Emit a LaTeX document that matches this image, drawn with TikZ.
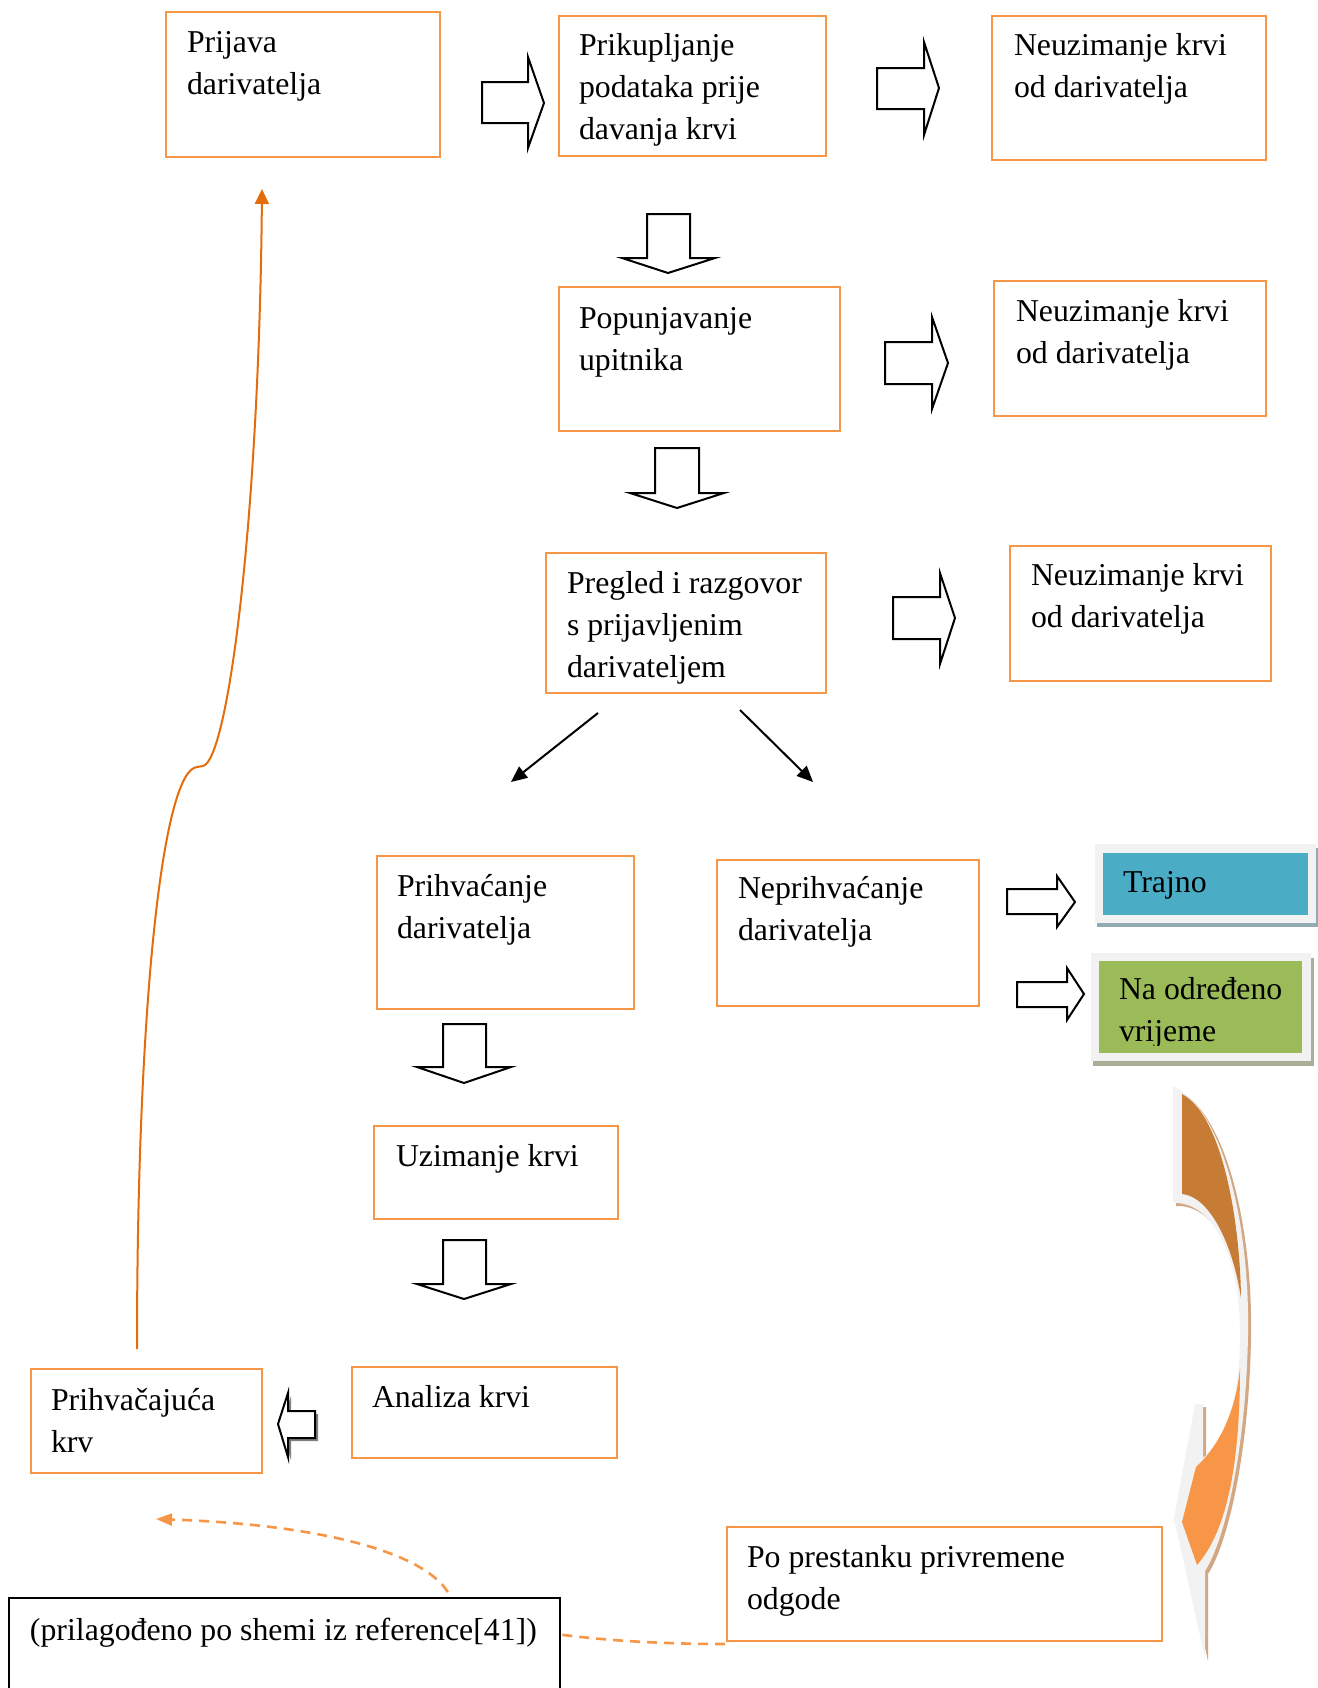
\documentclass[tikz,border=0pt]{standalone}
\usepackage{fontspec}
\setmainfont{Liberation Serif}
\usetikzlibrary{arrows.meta}
\definecolor{boxor}{HTML}{F79646}
\definecolor{curveor}{HTML}{E46C0A}
\definecolor{trblue}{HTML}{4BACC6}
\definecolor{nagreen}{HTML}{9BBB59}
\definecolor{framegray}{HTML}{F2F2F2}
\definecolor{blueshadow}{HTML}{93AAB5}
\definecolor{greenshadow}{HTML}{A9AF97}
\definecolor{darkor}{HTML}{C77C35}
\definecolor{tanshadow}{HTML}{D2A782}
\definecolor{arrshadow}{HTML}{808080}
\newcommand\obx[5]{\node[obox, minimum width={(#4-#2)*0.5pt}, minimum height={(#5-#3)*0.5pt}] (#1) at (#2,#3) {};}
\newcommand\tx[4]{\node[txt] (#1) at (#2,#3) {\begin{tabular}[t]{@{}l@{}}#4\end{tabular}};}
\begin{document}
\begin{tikzpicture}[x=0.5pt,y=-0.5pt,
  obox/.style={draw=boxor, line width=1.1pt, inner sep=0pt, outer sep=0pt, anchor=north west, fill=white},
  txt/.style={anchor=base west, inner sep=0pt, outer sep=0pt, font=\fontsize{15.9}{21}\selectfont},
  blockarrow/.style={draw=black, line width=1pt, fill=white, line join=miter},
  diagarrow/.style={draw=black, line width=1pt, -{Triangle[length=8pt,width=7pt]}},
  loopcurve/.style={draw=curveor, line width=1pt, -{Triangle[length=7.5pt,width=7pt]}},
  dashcurve/.style={draw=boxor, line width=1.3pt, dash pattern=on 5pt off 3.5pt, -{Triangle[length=8pt,width=6pt]}}]
\useasboundingbox (0,0) rectangle (1318,1688);

% ---------- boxes ----------
\obx{prijava}{166}{12}{440}{157}
\obx{prikup}{559}{16}{826}{156}
\obx{neuz1}{992}{16}{1266}{160}
\obx{popun}{559}{287}{840}{431}
\obx{neuz2}{994}{281}{1266}{416}
\obx{pregled}{546}{553}{826}{693}
\obx{neuz3}{1010}{546}{1271}{681}
\obx{prihv}{377}{856}{634}{1009}
\obx{neprihv}{717}{860}{979}{1006}
\obx{uzim}{374}{1126}{618}{1219}
\obx{analiza}{352}{1367}{617}{1458}
\obx{prihvkrv}{31}{1369}{262}{1473}
\obx{poprest}{727}{1527}{1162}{1641}

% ---------- coloured boxes ----------
\fill[blueshadow] (1097,848) rectangle (1318,927);
\fill[framegray] (1095,844) rectangle (1316,923);
\node[fill=trblue, inner sep=0pt, outer sep=0pt, anchor=north west, minimum width={205*0.5pt}, minimum height={62*0.5pt}] (trajno) at (1103,853) {};
\fill[greenshadow] (1093,958) rectangle (1314,1066);
\fill[framegray] (1091,953) rectangle (1311,1061);
\node[fill=nagreen, inner sep=0pt, outer sep=0pt, anchor=north west, minimum width={203*0.5pt}, minimum height={92*0.5pt}] (naodr) at (1099,961) {};

% ---------- hollow block arrows ----------
\draw[blockarrow] (482,82) -- (528,82) -- (528,57) -- (544,103) -- (528,148) -- (528,123) -- (482,123) -- cycle;
\draw[blockarrow] (877,68) -- (924,68) -- (924,42) -- (939,88) -- (924,135) -- (924,109) -- (877,109) -- cycle;
\draw[blockarrow] (885,342) -- (932,342) -- (932,317) -- (948,363) -- (932,409) -- (932,384) -- (885,384) -- cycle;
\draw[blockarrow] (893,597) -- (940,597) -- (940,573) -- (955,618) -- (940,664) -- (940,639) -- (893,639) -- cycle;
\draw[blockarrow] (1007,889) -- (1057,889) -- (1057,876) -- (1075,902) -- (1057,927) -- (1057,914) -- (1007,914) -- cycle;
\draw[blockarrow] (1017,982) -- (1067,982) -- (1067,968) -- (1084,994) -- (1067,1020) -- (1067,1007) -- (1017,1007) -- cycle;
\draw[blockarrow] (647,214) -- (690,214) -- (690,258) -- (715,258) -- (668,273) -- (622,258) -- (647,258) -- cycle;
\draw[blockarrow] (655,448) -- (699,448) -- (699,493) -- (724,493) -- (677,508) -- (630,493) -- (655,493) -- cycle;
\draw[blockarrow] (443,1024) -- (486,1024) -- (486,1067) -- (511,1067) -- (464,1083) -- (417,1067) -- (443,1067) -- cycle;
\draw[blockarrow] (443,1240) -- (486,1240) -- (486,1284) -- (511,1284) -- (464,1299) -- (417,1284) -- (443,1284) -- cycle;
% left arrow with shadow
\fill[arrshadow, shift={(3,3)}] (278,1424) -- (288,1393) -- (288,1411) -- (315,1411) -- (315,1438) -- (288,1438) -- (288,1457) -- cycle;
\draw[blockarrow] (278,1424) -- (288,1393) -- (288,1411) -- (315,1411) -- (315,1438) -- (288,1438) -- (288,1457) -- cycle;

% ---------- diagonal arrows ----------
\coordinate (dl1) at (598,713);
\coordinate (dl2) at (511,782);
\coordinate (dr1) at (740,710);
\coordinate (dr2) at (813,782);
\draw[diagarrow] (dl1) -- (dl2);
\draw[diagarrow] (dr1) -- (dr2);

% ---------- loop back curve ----------
\coordinate (cstart) at (137,1349);
\coordinate (cend) at (262,189);
\draw[loopcurve] (cstart) .. controls (137,1000) and (163,770) .. (197,767) -- (203,766) .. controls (228,760) and (259,520) .. (cend);

% ---------- big curved arrow ----------
\fill[tanshadow, shift={(3,3)}] (1173,1086) .. controls (1225,1110) and (1250,1230) .. (1248,1335)
  .. controls (1246,1450) and (1225,1540) .. (1205,1571) -- (1205,1658) -- (1174,1518) -- (1195,1404) -- (1203,1404) -- (1203,1458)
  .. controls (1225,1440) and (1240,1400) .. (1240,1335) .. controls (1240,1260) and (1215,1205) .. (1177,1203) -- (1173,1203) -- cycle;
\fill[framegray] (1173,1086) .. controls (1225,1110) and (1250,1230) .. (1248,1335)
  .. controls (1246,1450) and (1225,1540) .. (1205,1571) -- (1205,1658) -- (1174,1518) -- (1195,1404) -- (1203,1404) -- (1203,1458)
  .. controls (1225,1440) and (1240,1400) .. (1240,1335) .. controls (1240,1260) and (1215,1205) .. (1177,1203) -- (1173,1203) -- cycle;
\fill[darkor] (1182,1094) .. controls (1222,1115) and (1240,1220) .. (1241,1298) .. controls (1232,1240) and (1208,1196) .. (1182,1194) -- cycle;
\fill[boxor] (1240,1368) .. controls (1240,1460) and (1228,1530) .. (1197,1565) -- (1182,1522) -- (1196,1467) .. controls (1220,1445) and (1236,1410) .. (1240,1368) -- cycle;

% ---------- dashed curve and reference box ----------
\coordinate (dstart) at (725,1644);
\coordinate (dend) at (156,1519);
\draw[dashcurve] (dstart) .. controls (600,1644) and (470,1630) .. (450,1596) .. controls (430,1555) and (330,1525) .. (dend);
\node[draw=black, line width=0.8pt, fill=white, inner sep=0pt, outer sep=0pt, anchor=north west, minimum width={551*0.5pt}, minimum height={100*0.5pt}] (refbox) at (9,1598) {};

% ---------- texts ----------
\tx{t1}{187}{52}{Prijava\\darivatelja}
\tx{t2}{579}{55}{Prikupljanje\\podataka prije\\davanja krvi}
\tx{t3}{1014}{55}{Neuzimanje krvi\\od darivatelja}
\tx{t4}{579}{328}{Popunjavanje\\upitnika}
\tx{t5}{1016}{321}{Neuzimanje krvi\\od darivatelja}
\tx{t6}{567}{593}{Pregled i razgovor\\s prijavljenim\\darivateljem}
\tx{t7}{1031}{585}{Neuzimanje krvi\\od darivatelja}
\tx{t8}{397}{896}{Prihvaćanje\\darivatelja}
\tx{t9}{738}{898}{Neprihvaćanje\\darivatelja}
\tx{t10}{1123}{892}{Trajno}
\begin{scope}
\clip (1099,961) rectangle (1302,1045);
\tx{t11}{1119}{999}{Na određeno\\vrijeme}
\end{scope}
\tx{t12}{396}{1166}{Uzimanje krvi}
\tx{t13}{372}{1407}{Analiza krvi}
\tx{t14}{51}{1410}{Prihvačajuća\\krv}
\tx{t15}{747}{1567}{Po prestanku privremene\\odgode}
\tx{t16}{30}{1640}{(prilagođeno po shemi iz reference[41])}
\end{tikzpicture}
\end{document}
